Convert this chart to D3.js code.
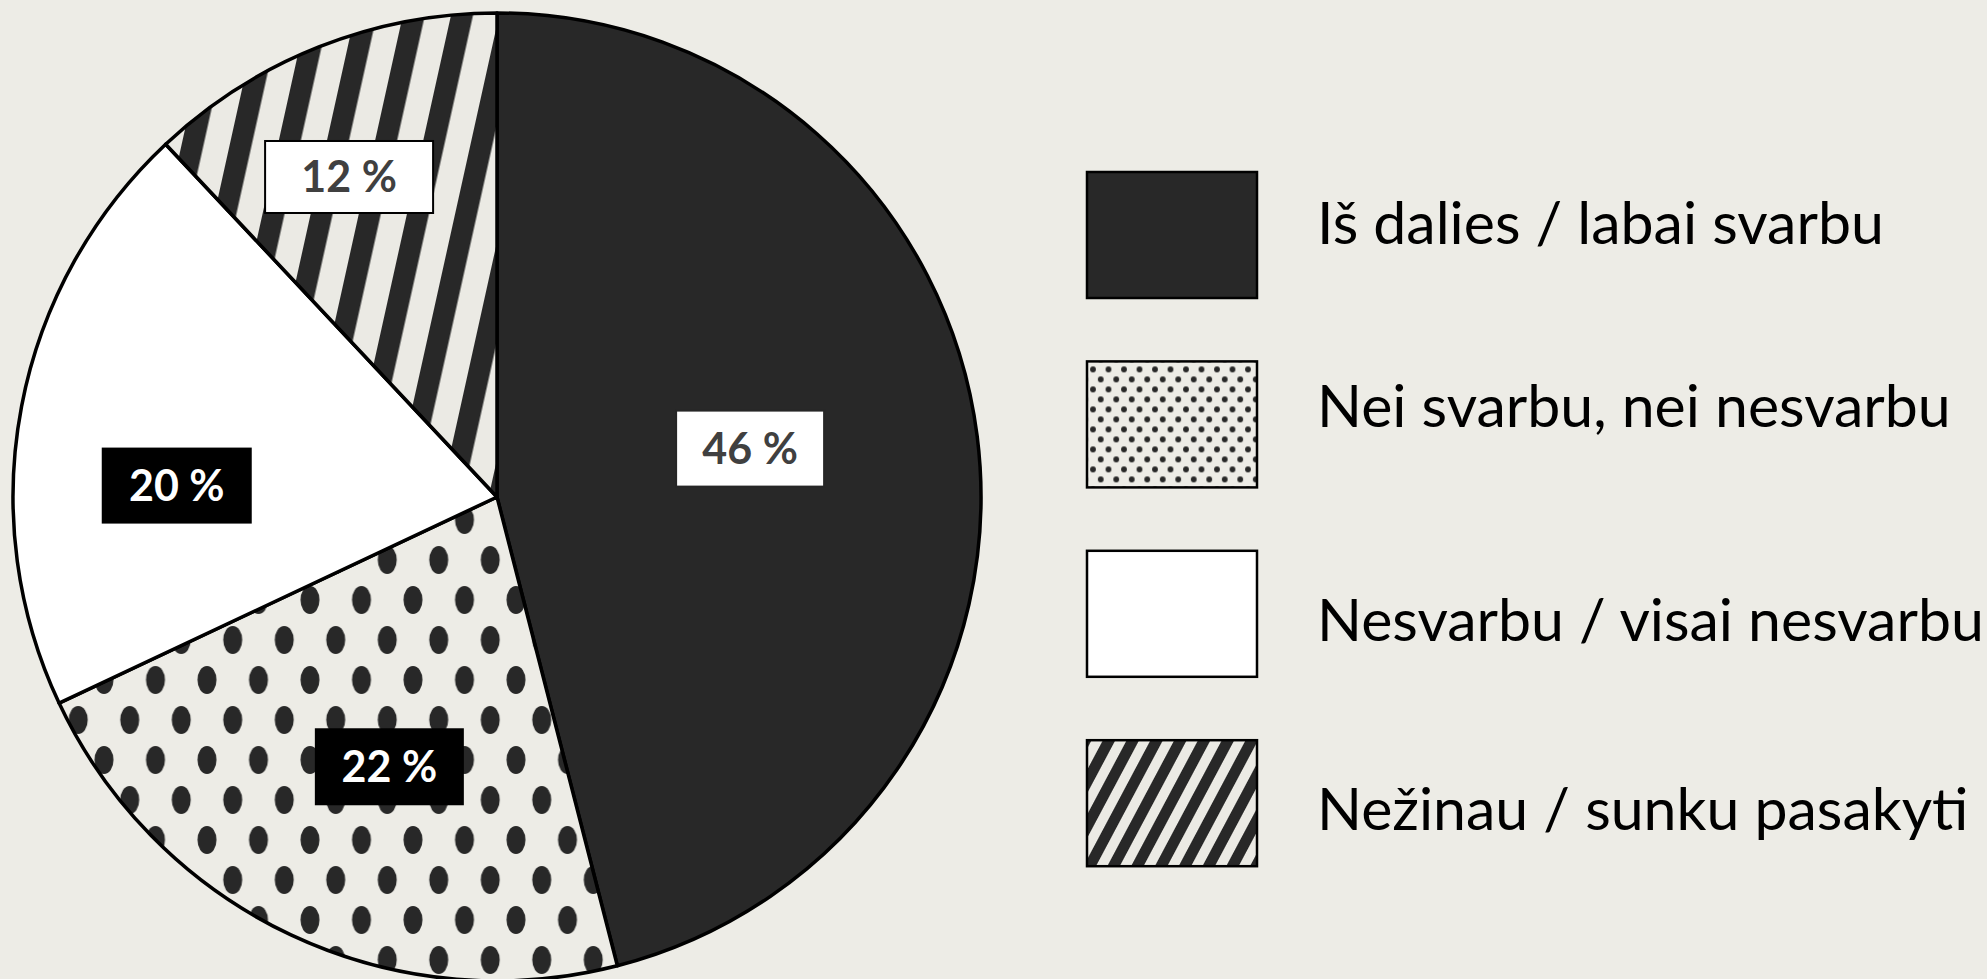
<!DOCTYPE html>
<html>
<head>
<meta charset="utf-8">
<script src="https://cdnjs.cloudflare.com/ajax/libs/d3/7.8.5/d3.min.js"></script>
<style>
  html, body { margin: 0; padding: 0; background: #edece6; }
  svg { display: block; }
</style>
</head>
<body>
<div id="chart"></div>
<script>
// data
var categories = [
  "Iš dalies / labai svarbu",
  "Nei svarbu, nei nesvarbu",
  "Nesvarbu / visai nesvarbu",
  "Nežinau / sunku pasakyti"
];
var shares = [46, 22, 20, 12];
var labelTexts = ["46 %", "22 %", "20 %", "12 %"];

var width = 1987;
var height = 979;
var cx = 497, cy = 497, radius = 484;

var bg = "#edece6";
var dark = "#282828";

// label box look and nudges (layout only)
var labelBox = [
  { w: 148, h: 76, fill: "#fff", stroke: "#262626", text: "#404040", dx: -35, dy: -12 },
  { w: 149, h: 77, fill: "#000", stroke: "none", text: "#fff", dx: 16, dy: 7 },
  { w: 150, h: 76, fill: "#000", stroke: "none", text: "#fff", dx: -35, dy: 43 },
  { w: 168, h: 72, fill: "#fff", stroke: "#000", text: "#404040", dx: -41, dy: -50 }
];
var legendTextNudge = [9, 3, 27, 27];

var svg = d3.select("#chart")
  .append("svg")
  .attr("width", width)
  .attr("height", height);

svg.append("rect").attr("width", width).attr("height", height).attr("fill", bg);

/* Patterns */
var defs = svg.append("defs");

// big dots inside the pie
var dotsBig = defs.append("pattern")
  .attr("id", "dotsBig")
  .attr("patternUnits", "userSpaceOnUse")
  .attr("x", 328).attr("y", 583)
  .attr("width", 51.5).attr("height", 80);
dotsBig.append("rect").attr("width", 51.5).attr("height", 80).attr("fill", bg);
[[0, 0], [51.5, 0], [25.75, 40], [0, 80], [51.5, 80]].forEach(function (p) {
  dotsBig.append("ellipse").attr("cx", p[0]).attr("cy", p[1])
    .attr("rx", 9.5).attr("ry", 14).attr("fill", dark);
});

// small dots for the legend
var dotsSmall = defs.append("pattern")
  .attr("id", "dotsSmall")
  .attr("patternUnits", "userSpaceOnUse")
  .attr("x", 1093).attr("y", 368)
  .attr("width", 15.5).attr("height", 20);
dotsSmall.append("rect").attr("width", 15.5).attr("height", 20).attr("fill", bg);
[[0, 0], [15.5, 0], [7.75, 10], [0, 20], [15.5, 20]].forEach(function (p) {
  dotsSmall.append("circle").attr("cx", p[0]).attr("cy", p[1])
    .attr("r", 2.9).attr("fill", dark);
});

// steep stripes inside the pie
var stripesBig = defs.append("pattern")
  .attr("id", "stripesBig")
  .attr("patternUnits", "userSpaceOnUse")
  .attr("width", 47).attr("height", 47)
  .attr("patternTransform", "translate(302,120) rotate(12.5)");
stripesBig.append("rect").attr("width", 47).attr("height", 47).attr("fill", "#ebeae4");
stripesBig.append("rect").attr("width", 21.5).attr("height", 47).attr("fill", dark);

// legend stripes
var stripesSmall = defs.append("pattern")
  .attr("id", "stripesSmall")
  .attr("patternUnits", "userSpaceOnUse")
  .attr("width", 21).attr("height", 21)
  .attr("patternTransform", "translate(1090,740) rotate(28)");
stripesSmall.append("rect").attr("width", 21).attr("height", 21).attr("fill", "#ebeae4");
stripesSmall.append("rect").attr("width", 11).attr("height", 21).attr("fill", dark);

var fills = [dark, "url(#dotsBig)", "#ffffff", "url(#stripesBig)"];
var legendFills = [dark, "url(#dotsSmall)", "#ffffff", "url(#stripesSmall)"];

/* Pie */
var pie = d3.pie().sort(null).value(function (d) { return d; });
var arcs = pie(shares);

var arc = d3.arc().innerRadius(0).outerRadius(radius);
var labelArc = d3.arc().innerRadius(radius * 0.6).outerRadius(radius * 0.6);

var g = svg.append("g").attr("transform", "translate(" + cx + "," + cy + ")");

g.selectAll("path.slice")
  .data(arcs)
  .enter()
  .append("path")
  .attr("class", "slice")
  .attr("d", arc)
  .attr("fill", function (d, i) { return fills[i]; })
  .attr("stroke", "#000")
  .attr("stroke-width", 3.5)
  .attr("stroke-linejoin", "round");

/* Data labels */
var labels = g.selectAll("g.label")
  .data(arcs)
  .enter()
  .append("g")
  .attr("class", "label")
  .attr("transform", function (d, i) {
    var c = labelArc.centroid(d);
    return "translate(" + (c[0] + labelBox[i].dx) + "," + (c[1] + labelBox[i].dy) + ")";
  });

labels.append("rect")
  .attr("x", function (d, i) { return -labelBox[i].w / 2; })
  .attr("y", function (d, i) { return -labelBox[i].h / 2; })
  .attr("width", function (d, i) { return labelBox[i].w; })
  .attr("height", function (d, i) { return labelBox[i].h; })
  .attr("fill", function (d, i) { return labelBox[i].fill; })
  .attr("stroke", function (d, i) { return labelBox[i].stroke; })
  .attr("stroke-width", 2);

labels.append("text")
  .attr("text-anchor", "middle")
  .attr("dy", "0.36em")
  .attr("font-family", "Lato, 'Open Sans', sans-serif")
  .attr("font-weight", "bold")
  .attr("font-size", 43)
  .attr("fill", function (d, i) { return labelBox[i].text; })
  .text(function (d, i) { return labelTexts[i]; });

/* Legend */
var legendY = d3.scaleBand()
  .domain(categories)
  .range([172, 172 + 189.4 * 4])
  .paddingInner(0);

var legend = svg.append("g").attr("class", "legend");

var items = legend.selectAll("g.item")
  .data(categories)
  .enter()
  .append("g")
  .attr("class", "item")
  .attr("transform", function (d) { return "translate(0," + legendY(d) + ")"; });

items.append("rect")
  .attr("x", 1087)
  .attr("y", 0)
  .attr("width", 170)
  .attr("height", 126)
  .attr("fill", function (d, i) { return legendFills[i]; })
  .attr("stroke", "#000")
  .attr("stroke-width", 2.5);

items.append("text")
  .attr("x", 1317)
  .attr("y", function (d, i) { return 63 + legendTextNudge[i]; })
  .attr("font-family", "Lato, 'Open Sans', sans-serif")
  .attr("font-size", 59)
  .attr("fill", "#000")
  .text(function (d) { return d; });
</script>
</body>
</html>
